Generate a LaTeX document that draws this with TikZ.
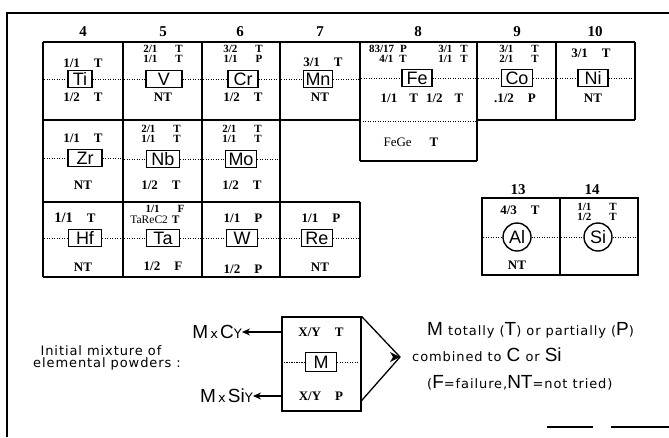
\documentclass[tikz,border=0pt]{standalone}
\usepackage{fontspec}
\setmainfont{Liberation Serif}
\newfontfamily\elfont{Liberation Sans}
\newfontfamily\legfont[LetterSpace=7]{DejaVu Sans}
\usetikzlibrary{arrows.meta,calc}
\newcommand\lbig[1]{{\elfont\fontsize{19}{19}\selectfont #1}}
\newcommand\elem[7]{%
  \node[elbox,minimum width=#7pt] (#1) at (#2,#3) {#4};
  \draw[dotl] (#5,#3) -- (#1.west);
  \draw[dotl] (#1.east) -- (#6,#3);}
\begin{document}
\begin{tikzpicture}[x=1pt,y=-1pt,
  frame/.style={line width=2pt},
  cellb/.style={line width=1.2pt},
  dotl/.style={line width=0.7pt,dash pattern=on 1.1pt off 1.4pt},
  elbox/.style={draw,line width=1.5pt,fill=white,font=\elfont\fontsize{18}{18}\selectfont,inner xsep=2pt,inner ysep=1.5pt,text height=13pt,text depth=0pt,minimum height=17pt},
  elcirc/.style={draw,circle,line width=1.4pt,fill=white,font=\elfont\fontsize{18}{18}\selectfont,inner sep=0pt,minimum size=28pt},
  num/.style={font=\bfseries\fontsize{13}{12}\selectfont,inner sep=0pt,text height=9pt,text depth=0pt},
  snum/.style={font=\bfseries\fontsize{11}{11}\selectfont,inner sep=0pt,text height=7.5pt,text depth=0pt},
  reg/.style={font=\fontsize{13}{12}\selectfont,inner sep=0pt,text height=9pt,text depth=0pt},
  sreg/.style={font=\fontsize{11.5}{11}\selectfont,inner sep=0pt,text height=8pt,text depth=0pt},
  hdr/.style={font=\bfseries\fontsize{15}{15}\selectfont,inner sep=0pt},
  leg/.style={font=\legfont\fontsize{13}{13}\selectfont,inner sep=0pt},
  arr/.style={-{Stealth[length=8pt,width=7pt]},line width=1.5pt}]
\useasboundingbox (0,0) rectangle (669,437);
% outer frame
\draw[frame] (7,437) -- (7,13) -- (669,13);
\draw[frame] (547,427) -- (593,427);
\draw[frame] (611,427) -- (669,427);
% grid lines
\draw[cellb] (43,42) -- (635,42);
\draw[cellb] (43,120) -- (360,120);
\draw[cellb] (477,120) -- (635,120);
\draw[cellb] (360,161) -- (477,161);
\draw[cellb] (43,202) -- (360,202);
\draw[cellb] (43,277) -- (360,277);
\draw[cellb] (43,42) -- (43,277);
\draw[cellb] (123,42) -- (123,277);
\draw[cellb] (202,42) -- (202,277);
\draw[cellb] (280,42) -- (280,277);
\draw[cellb] (360,42) -- (360,161);
\draw[cellb] (360,202) -- (360,277);
\draw[cellb] (477,42) -- (477,161);
\draw[cellb] (556,42) -- (556,120);
\draw[cellb] (635,42) -- (635,120);
\draw[dotl] (360,121) -- (477,121);
\draw[cellb] (482,198) rectangle (638,275);
\draw[cellb] (560,198) -- (560,275);
% headers
\node[hdr] (h4) at (83,32) {4};
\node[hdr] (h5) at (163,32) {5};
\node[hdr] (h6) at (240,32) {6};
\node[hdr] (h7) at (320,32) {7};
\node[hdr] (h8) at (418,32) {8};
\node[hdr] (h9) at (517,32) {9};
\node[hdr] (h10) at (595,32) {10};
\node[hdr] (h13) at (518,190) {13};
\node[hdr] (h14) at (592,190) {14};
% row 1
\elem{ti}{80}{79}{Ti}{44}{122}{24}
\node[num] (ti1) at (83,63) {1/1\hspace{14pt}T};
\node[num] (ti2) at (83,97) {1/2\hspace{14pt}T};
\elem{v}{164}{79}{V}{124}{201}{36}
\node[snum] (v1) at (163,49) {2/1\hspace{18pt}T};
\node[snum] (v2) at (163,58.5) {1/1\hspace{18pt}T};
\node[num] (v3) at (163,97) {NT};
\elem{cr}{243}{79}{Cr}{203}{279}{30}
\node[snum] (cr1) at (243,49) {3/2\hspace{18pt}T};
\node[snum] (cr2) at (243,58.5) {1/1\hspace{18pt}P};
\node[num] (cr3) at (243,97) {1/2\hspace{14pt}T};
\elem{mn}{318}{79}{Mn}{281}{359}{27}
\node[num] (mn1) at (323,62) {3/1\hspace{14pt}T};
\node[num] (mn2) at (320,97) {NT};
\elem{fe}{417}{78}{Fe}{361}{476}{30}
\node[snum,anchor=east] (fe1) at (407,49) {83/17\hspace{6pt}P};
\node[snum,anchor=east] (fe2) at (407,58.5) {4/1\hspace{6pt}T};
\node[snum,anchor=east] (fe3) at (468,49) {3/1\hspace{8pt}T};
\node[snum,anchor=east] (fe4) at (468,58.5) {1/1\hspace{8pt}T};
\node[num] (fe5) at (422,98) {1/1\hspace{12pt}T\hspace{8pt}1/2\hspace{12pt}T};
\node[reg] (fege) at (411,142) {FeGe\hspace{18pt}\textbf{T}};
\elem{co}{517}{78}{Co}{478}{555}{31}
\node[snum] (co1) at (519,49) {3/1\hspace{18pt}T};
\node[snum] (co2) at (519,58.5) {2/1\hspace{18pt}T};
\node[num] (co3) at (515,98) {.1/2\hspace{14pt}P};
\elem{ni}{593}{78}{Ni}{557}{634}{30}
\node[num] (ni1) at (591,53) {3/1\hspace{14pt}T};
\node[num] (ni2) at (593,98) {NT};
% row 2
\elem{zr}{85}{158}{Zr}{44}{122}{34}
\node[num] (zr1) at (83,138) {1/1\hspace{14pt}T};
\node[num] (zr2) at (83,185) {NT};
\elem{nb}{163}{159}{Nb}{124}{201}{33}
\node[snum] (nb1) at (161,129) {2/1\hspace{18pt}T};
\node[snum] (nb2) at (161,138.5) {1/1\hspace{18pt}T};
\node[num] (nb3) at (161,185) {1/2\hspace{14pt}T};
\elem{mo}{241}{159}{Mo}{203}{279}{31}
\node[snum] (mo1) at (242,129) {2/1\hspace{18pt}T};
\node[snum] (mo2) at (242,138.5) {1/1\hspace{18pt}T};
\node[num] (mo3) at (242,185) {1/2\hspace{14pt}T};
% row 3
\elem{hf}{85}{238}{Hf}{44}{122}{33}
\node[num] (hf1) at (75,218) {{\fontsize{14.5}{14}\selectfont 1/1}\hspace{14pt}T};
\node[num] (hf2) at (83,267) {NT};
\elem{ta}{163}{238}{Ta}{124}{201}{33}
\node[snum] (ta1) at (165,208.5) {1/1\hspace{18pt}F};
\node[sreg] (ta2) at (155,219) {TaReC2\hspace{4pt}\textbf{T}};
\node[num] (ta3) at (163,266) {1/2\hspace{14pt}F};
\elem{w}{242}{238}{W}{203}{279}{31}
\node[num] (w1) at (243,218) {1/1\hspace{14pt}P};
\node[num] (w2) at (243,269) {1/2\hspace{14pt}P};
\elem{re}{317}{238}{Re}{281}{359}{31}
\node[num] (re1) at (321,218) {1/1\hspace{14pt}P};
\node[num] (re2) at (320,267) {NT};
% groups 13, 14
\node[elcirc] (al) at (517,237) {Al};
\draw[dotl] (483,237) -- (al.west);
\draw[dotl] (al.east) -- (559,237);
\node[num] (al1) at (520,210) {4/3\hspace{14pt}T};
\node[num] (al2) at (517,265) {NT};
\node[elcirc] (si) at (598,237) {Si};
\draw[dotl] (561,237) -- (si.west);
\draw[dotl] (si.east) -- (637,237);
\node[snum] (si1) at (597,207) {1/1\hspace{18pt}T};
\node[snum] (si2) at (597,216.5) {1/2\hspace{18pt}T};
% legend
\node[draw,line width=1.2pt,minimum width=79pt,minimum height=94pt,inner sep=0pt] (lb) at (321.5,364) {};
\node[elbox,minimum width=31pt,minimum height=19pt] (lm) at (321,362) {M};
\draw[dotl] (lb.west |- lm.center) -- (lm.west);
\draw[dotl] (lm.east) -- (lb.east |- lm.center);
\node[num] (lxt) at (321,332) {X/Y\hspace{14pt}T};
\node[num] (lxp) at (321,396) {X/Y\hspace{14pt}P};
\node[leg,anchor=east] (mxc) at (242,332) {\lbig{M}\,x\,\lbig{C}Y};
\node[leg,anchor=east] (mxs) at (253,396) {\lbig{M}\,x\,\lbig{Si}Y};
\draw[arr] (lb.west |- mxc.east) -- (mxc.east);
\draw[arr] (lb.west |- mxs.east) -- (mxs.east);
\coordinate (tip) at (400,357);
\draw[line width=1.3pt] (lb.north east) -- (tip) -- ($(lb.south east)+(0,-11)$);
\fill (tip) -- ++(-10,-5) -- ++(3,5) -- ++(-3,5) -- cycle;
\node[leg,anchor=west] (lt1) at (427,330) {\lbig{M} totally (\lbig{T}) or partially (\lbig{P})};
\node[leg,anchor=west] (lt2) at (412,355) {combined to \lbig{C} or \lbig{Si}};
\node[leg,anchor=west] (lt3) at (427,383) {(\lbig{F}=failure,\lbig{NT}=not tried)};
\node[leg] (li1) at (101,351) {Initial mixture of};
\node[leg] (li2) at (107,364) {elemental powders :};
\end{tikzpicture}
\end{document}
